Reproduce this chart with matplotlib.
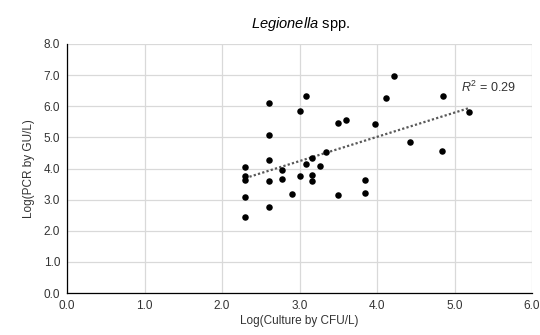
import numpy as np
import matplotlib
matplotlib.use("Agg")
import matplotlib.pyplot as plt

plt.rcParams['font.family'] = ['Liberation Sans', 'DejaVu Sans']
plt.rcParams['mathtext.fontset'] = 'custom'
plt.rcParams['mathtext.it'] = 'Liberation Sans:italic'
plt.rcParams['mathtext.rm'] = 'Liberation Sans'

culture = [2.61, 3.08, 3.00, 2.61, 2.61, 2.30, 2.30, 2.30, 2.61, 2.78, 2.78, 3.00,
           3.08, 3.16, 3.16, 3.16, 3.26, 3.34, 2.30, 2.30, 2.61, 2.90,
           4.22, 4.12, 3.50, 3.60, 3.97, 4.43, 3.84, 3.85, 3.50,
           4.85, 5.19, 4.84]
pcr = [6.10, 6.34, 5.84, 5.07, 4.28, 4.04, 3.75, 3.64, 3.61, 3.96, 3.65, 3.75,
       4.15, 4.33, 3.78, 3.61, 4.07, 4.52, 3.07, 2.45, 2.77, 3.19,
       6.96, 6.28, 5.46, 5.57, 5.43, 4.84, 3.64, 3.22, 3.15,
       6.32, 5.81, 4.56]
x_ticks = [0, 1, 2, 3, 4, 5, 6]
y_ticks = [0, 1, 2, 3, 4, 5, 6, 7, 8]
r2_label = "0.29"

fig = plt.figure(figsize=(5.4, 3.35), dpi=100)
ax = fig.add_axes([67/540, 1-293/335, (532-67)/540, (293-44)/335])

x = np.array(culture); y = np.array(pcr)
m, b = np.polyfit(x, y, 1)
xs = np.array([x.min(), x.max()])
ax.plot(xs, m*xs + b, linestyle=(0, (1, 1)), color='#595959', linewidth=1.6, zorder=2)
ax.scatter(x, y, s=22, color='black', zorder=3, linewidths=0)

ax.set_xlim(0, 6)
ax.set_ylim(0, 8)
ax.set_xticks(x_ticks)
ax.set_yticks(y_ticks)
ax.set_xticklabels([f"{v:.1f}" for v in x_ticks], fontsize=8.5, color='#333333')
ax.set_yticklabels([f"{v:.1f}" for v in y_ticks], fontsize=8.5, color='#333333')
ax.grid(True, color='#d9d9d9', linewidth=0.9, zorder=0)
ax.set_axisbelow(True)
for s in ['top', 'right']:
    ax.spines[s].set_visible(False)
for s in ['left', 'bottom']:
    ax.spines[s].set_color('black')
    ax.spines[s].set_linewidth(0.9)
ax.tick_params(length=0, pad=5)
ax.set_xlabel("Log(Culture by CFU/L)", fontsize=8.5, color='#333333', labelpad=2)
ax.set_ylabel("Log(PCR by GU/L)", fontsize=8.5, color='#333333', labelpad=6)

ax.text(5.08, 6.61, r"$\mathit{R}^{2}$" + " = " + r2_label, fontsize=9, color='#333333',
        va='center', ha='left')

fig.text((67+534)/2/540, 1-24/335, r"$\mathit{Legionella}$" + " spp.", ha='center', va='center',
         fontsize=10.5, color='black')
fig.savefig("out.png", dpi=100)
